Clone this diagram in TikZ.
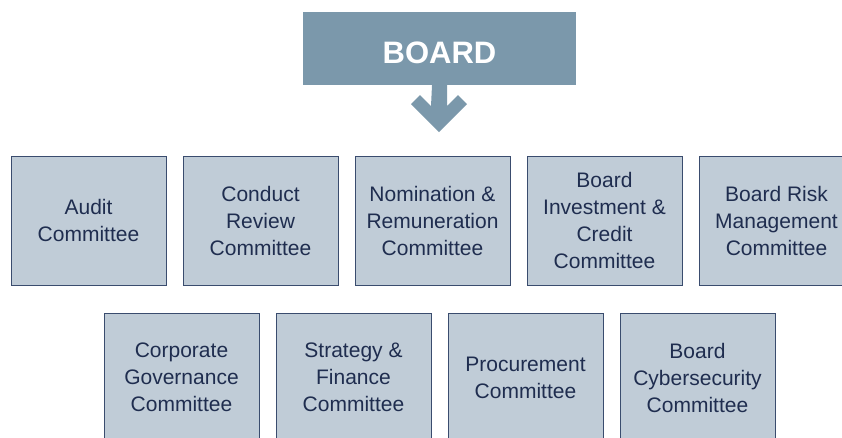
\documentclass[tikz,border=0pt]{standalone}
\usepackage{fontspec}
\setmainfont{Liberation Sans}
\usepackage{tikz}

\definecolor{boardblue}{HTML}{7B98AB}
\definecolor{boxblue}{HTML}{C0CCD7}
\definecolor{navy}{HTML}{1F2D4F}
\definecolor{edgeblue}{HTML}{3A4C6E}

\tikzset{
  board/.style={fill=boardblue, minimum width=273pt, minimum height=73pt, inner sep=0pt,
    text height=29.5pt, text=white, font=\fontsize{31}{36}\selectfont\bfseries},
  committee/.style={fill=boxblue, draw=edgeblue, line width=0.7pt, minimum width=155pt,
    minimum height=129pt, inner sep=0pt, align=center, text=navy,
    execute at begin node={\vspace*{6pt}},
    font=\fontsize{21}{27}\selectfont}
}

\begin{document}
\begin{tikzpicture}[x=1pt, y=-1pt]
    % page frame
    \clip (0, 0) rectangle (842, 437);
    \fill[white] (0, 0) rectangle (842, 437);

    % draw board
    \node[board] (board) at (439.5, 48.5) {BOARD};

    % draw arrow below board
    \fill[boardblue] ([xshift=-7.5pt]board.south) -- ([xshift=7.5pt]board.south)
      -- ++(0, 21) -- ++(11, -11) -- ++(9, 9) -- ++(-28, 28) -- ++(-28, -28)
      -- ++(9, -9) -- ++(11, 11) -- cycle;

    % draw first row
    \node[committee] (audit) at (88.5, 220.5) {Audit\\Committee};
    \node[committee] (conduct) at (260.5, 220.5) {Conduct\\Review\\Committee};
    \node[committee] (nomination) at (432.5, 220.5) {Nomination \&\\Remuneration\\Committee};
    \node[committee] (investment) at (604.5, 220.5) {Board\\Investment \&\\Credit\\Committee};
    \node[committee] (risk) at (776.5, 220.5) {Board Risk\\Management\\Committee};

    % draw second row
    \node[committee] (governance) at (181.5, 377.5) {Corporate\\Governance\\Committee};
    \node[committee] (strategy) at (353.5, 377.5) {Strategy \&\\Finance\\Committee};
    \node[committee] (procurement) at (525.5, 377.5) {Procurement\\Committee};
    \node[committee] (cyber) at (697.5, 377.5) {Board\\Cybersecurity\\Committee};

\end{tikzpicture}
\end{document}
